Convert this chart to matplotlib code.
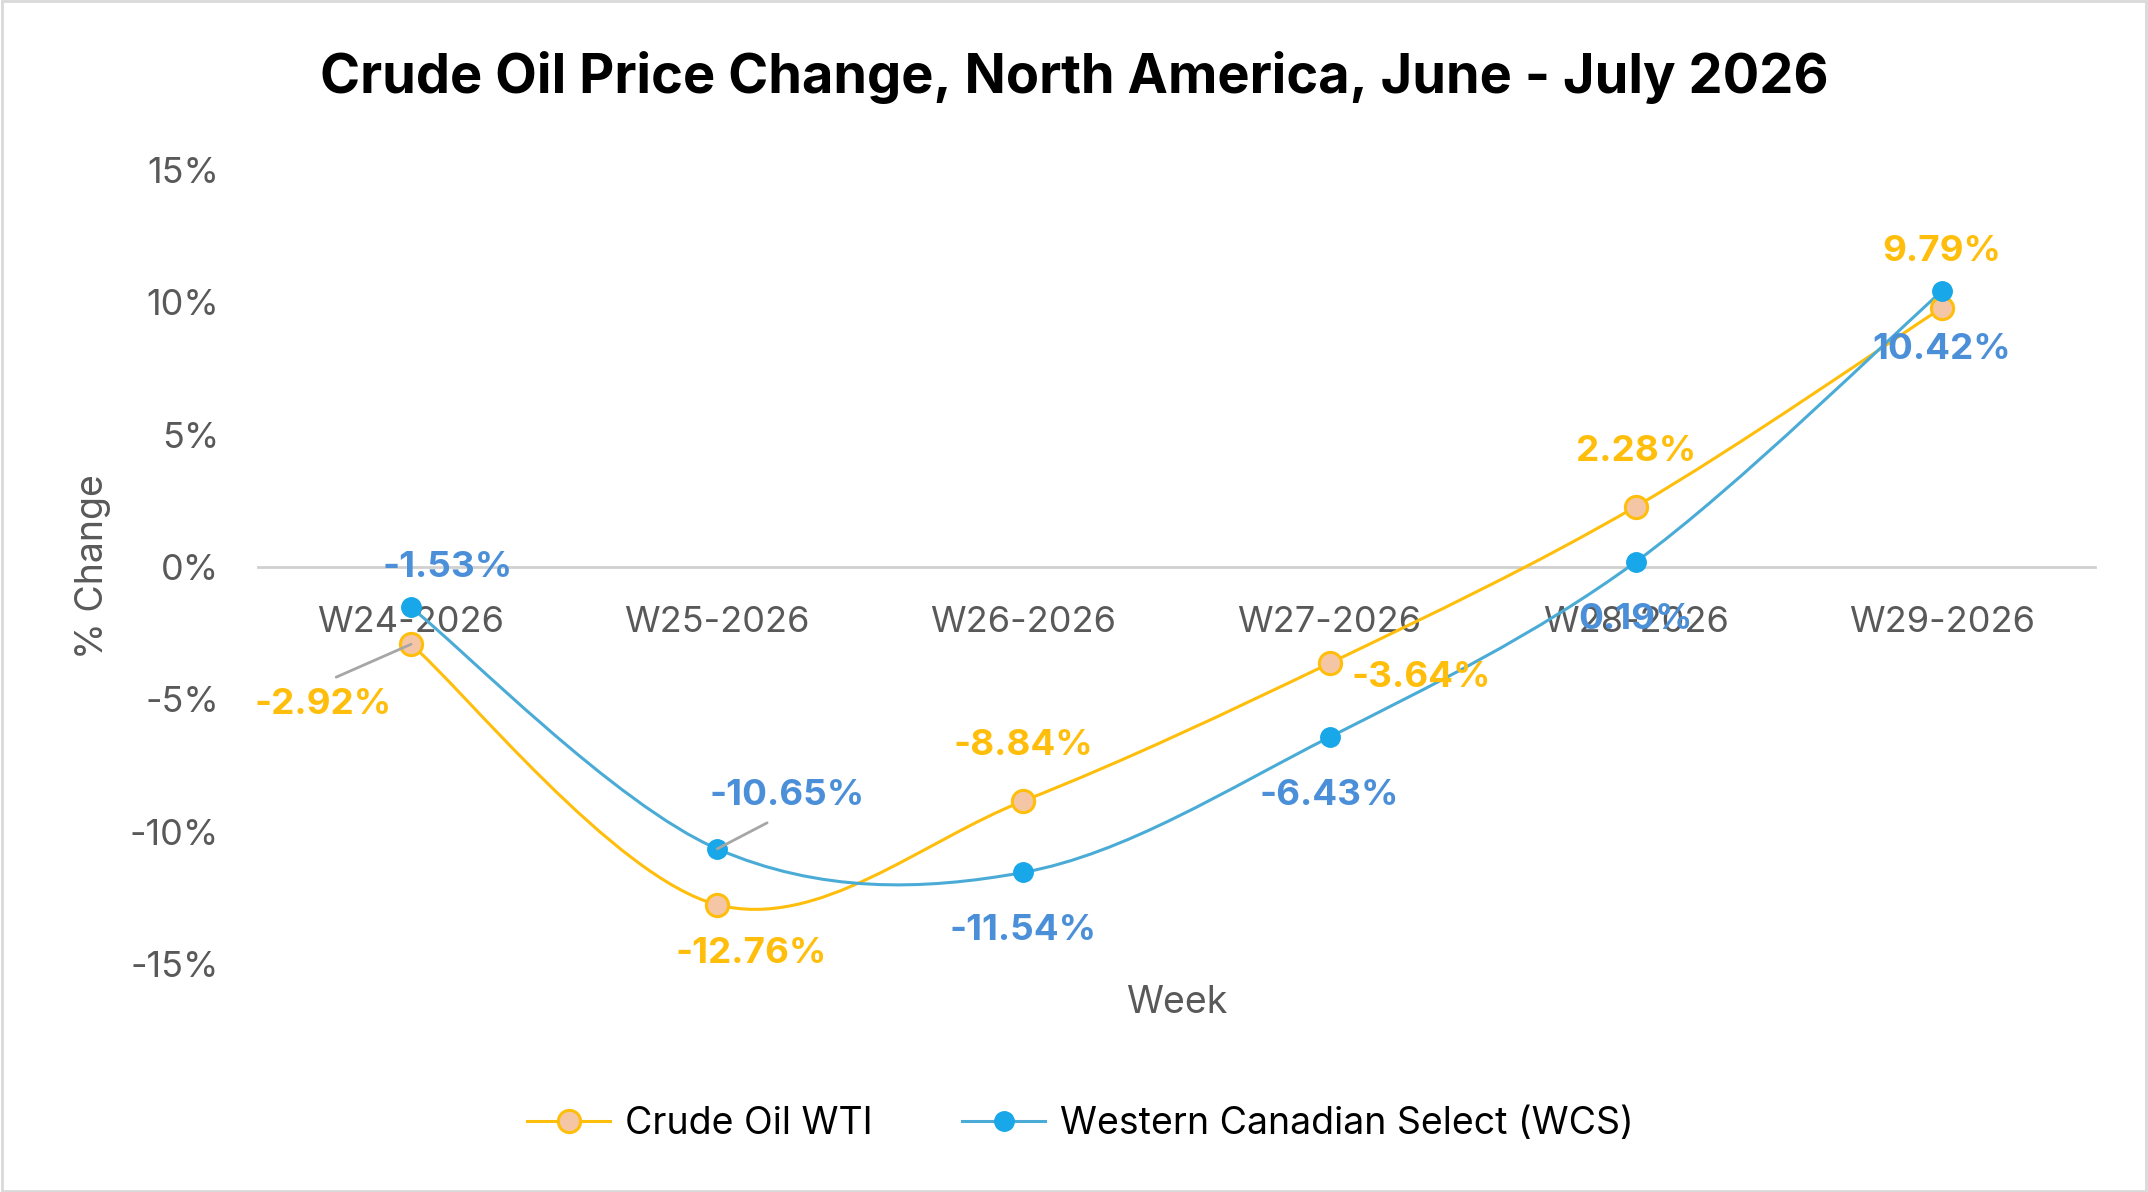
import matplotlib
matplotlib.use('Agg')
import matplotlib.pyplot as plt
from matplotlib.path import Path
from matplotlib.patches import PathPatch, Rectangle
from matplotlib.lines import Line2D
from matplotlib.ticker import FuncFormatter

plt.rcParams['font.family'] = ['Inter', 'DejaVu Sans']

weeks = ['W24-2026', 'W25-2026', 'W26-2026', 'W27-2026', 'W28-2026', 'W29-2026']
wti = [-2.92, -12.76, -8.84, -3.64, 2.28, 9.79]
wcs = [-1.53, -10.65, -11.54, -6.43, 0.19, 10.42]

# label offsets in pixels (dx, dy)
wti_off = [(-88, -60), (34, -49), (0, 55), (92, -14), (0, 55), (0, 56)]
wcs_off = [(37, 40), (70, 53), (0, -58), (0, -58), (0, -58), (0, -58)]

WTI_LINE = '#FFBE0B'
WTI_FACE = '#F5C6A6'
WCS_LINE = '#4AACD6'
WCS_DOT = '#18A7E8'
WTI_TXT = '#FFBE0B'
WCS_TXT = '#4A8FD8'


def smooth_path(xs, ys):
    # excel-like smoothing: catmull-rom turned into cubic beziers
    pts = list(zip(xs, ys))
    n = len(pts)
    verts = [pts[0]]
    codes = [Path.MOVETO]
    for i in range(n - 1):
        p0 = pts[max(i - 1, 0)]
        p1 = pts[i]
        p2 = pts[i + 1]
        p3 = pts[min(i + 2, n - 1)]
        c1 = (p1[0] + (p2[0] - p0[0]) / 6, p1[1] + (p2[1] - p0[1]) / 6)
        c2 = (p2[0] - (p3[0] - p1[0]) / 6, p2[1] - (p3[1] - p1[1]) / 6)
        verts += [c1, c2, p2]
        codes += [Path.CURVE4] * 3
    return Path(verts, codes)


fig = plt.figure(figsize=(21.48, 11.92), dpi=100)
ax = fig.add_axes([0.1201, 0.1913, 0.8552, 0.6661])
x = list(range(len(weeks)))

ax.add_patch(PathPatch(smooth_path(x, wti), fill=False, edgecolor=WTI_LINE, lw=2.2, zorder=3))
ax.add_patch(PathPatch(smooth_path(x, wcs), fill=False, edgecolor=WCS_LINE, lw=2.2, zorder=3))
ax.plot(x, wti, 'o', ms=16, mfc=WTI_FACE, mec=WTI_LINE, mew=2.2, zorder=4)
ax.plot(x, wcs, 'o', ms=14, mfc=WCS_DOT, mec=WCS_DOT, zorder=5)

ax.set_xlim(-0.5, len(weeks) - 0.5)
ax.set_ylim(-15, 15)
ax.set_yticks([-15, -10, -5, 0, 5, 10, 15])
ax.yaxis.set_major_formatter(FuncFormatter(lambda v, p: '%d%%' % v))
ax.set_xticks(x)
ax.set_xticklabels(weeks)
ax.tick_params(axis='both', length=0, labelsize=26, labelcolor='#595959')
ax.tick_params(axis='y', pad=28)
ax.tick_params(axis='x', pad=28)

for s in ['top', 'right', 'left']:
    ax.spines[s].set_visible(False)
ax.spines['bottom'].set_position(('data', 0))
ax.spines['bottom'].set_color('#D0D0D0')
ax.spines['bottom'].set_linewidth(2)

leaders_wti = {0: (0.42, 1.0)}
leaders_wcs = {1: (0.5, 0.0)}

for i, v in enumerate(wti):
    kw = {}
    if i in leaders_wti:
        kw['arrowprops'] = dict(arrowstyle='-', color='#A6A6A6', lw=2,
                                relpos=leaders_wti[i], shrinkA=14, shrinkB=0)
    ax.annotate('%.2f%%' % v, (i, v), xytext=wti_off[i], textcoords='offset pixels',
                ha='center', va='center', fontsize=26.5, fontweight='bold',
                color=WTI_TXT, zorder=6, **kw)

for i, v in enumerate(wcs):
    kw = {}
    if i in leaders_wcs:
        kw['arrowprops'] = dict(arrowstyle='-', color='#A6A6A6', lw=2,
                                relpos=leaders_wcs[i], shrinkA=12, shrinkB=0)
    ax.annotate('%.2f%%' % v, (i, v), xytext=wcs_off[i], textcoords='offset pixels',
                ha='center', va='center', fontsize=26.5, fontweight='bold',
                color=WCS_TXT, zorder=6, **kw)

ax.set_ylabel('% Change', fontsize=27, color='#595959')
ax.yaxis.set_label_coords(-0.08, 0.5)
ax.set_xlabel('Week', fontsize=27, color='#595959')
ax.xaxis.set_label_coords(0.5, -0.026)

fig.text(0.5, 0.935, 'Crude Oil Price Change, North America, June - July 2026',
         ha='center', va='center', fontsize=39, fontweight='bold', color='black')

handles = [
    Line2D([], [], color=WTI_LINE, lw=2.2, marker='o', ms=16, mfc=WTI_FACE, mec=WTI_LINE, mew=2.2),
    Line2D([], [], color=WCS_LINE, lw=2.2, marker='o', ms=14, mfc=WCS_DOT, mec=WCS_DOT),
]
fig.legend(handles, ['Crude Oil WTI', 'Western Canadian Select (WCS)'],
           loc='center', bbox_to_anchor=(0.503, 0.057), ncol=2, frameon=False,
           fontsize=27, handlelength=2.2, columnspacing=2.4, handletextpad=0.4)

fig.patches.append(Rectangle((0.001, 0.001), 0.998, 0.998, transform=fig.transFigure,
                             fill=False, edgecolor='#D9D9D9', lw=2))

fig.savefig('out.png', dpi=100, facecolor='white')
